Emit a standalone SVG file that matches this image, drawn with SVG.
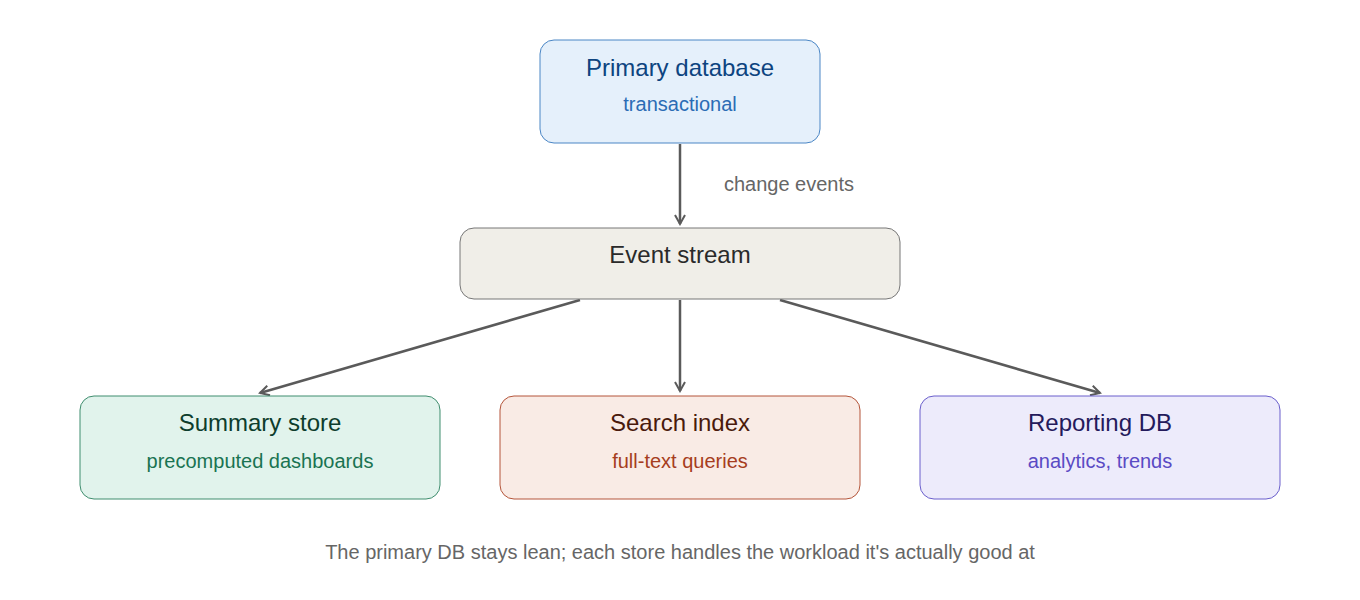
<svg xmlns="http://www.w3.org/2000/svg" width="1360" height="600" viewBox="0 0 1360 600">
<style>
text{font-family:"Liberation Sans",Arial,sans-serif;text-anchor:middle}
.t{font-size:24px}.s{font-size:20px}
.e{stroke:#5a5a5a;stroke-width:2.5;fill:none;marker-end:url(#a)}
</style>
<defs><marker id="a" viewBox="0 0 12 12" refX="10" refY="6" markerWidth="12" markerHeight="12" markerUnits="userSpaceOnUse" orient="auto"><path d="M1 1L10 6L1 11" fill="none" stroke="#5a5a5a" stroke-width="2"/></marker></defs>
<rect width="1360" height="600" fill="#fff"/>
<g id="connectors">
<line class="e" x1="680" y1="144" x2="680" y2="224"/>
<text x="789" y="191" class="s" fill="#666">change events</text>
<line class="e" x1="580" y1="300" x2="260" y2="393"/>
<line class="e" x1="680" y1="300" x2="680" y2="391"/>
<line class="e" x1="780" y1="300" x2="1100" y2="393"/>
</g>
<g id="primary"><rect x="540" y="40" width="280" height="103" rx="14" fill="#e5f0fb" stroke="#4a86c5"/>
<text x="680" y="76" class="t" fill="#0d4480">Primary database</text><text x="680" y="111" class="s" fill="#2b6cb5">transactional</text></g>
<g id="stream"><rect x="460" y="228" width="440" height="71" rx="14" fill="#f0eee8" stroke="#777"/>
<text x="680" y="263" class="t" fill="#2a2a2a">Event stream</text></g>
<g id="summary"><rect x="80" y="396" width="360" height="103" rx="14" fill="#e1f3ec" stroke="#3f8d6e"/>
<text x="260" y="431" class="t" fill="#0d3d2c">Summary store</text><text x="260" y="468" class="s" fill="#1a7352">precomputed dashboards</text></g>
<g id="search"><rect x="500" y="396" width="360" height="103" rx="14" fill="#f9ebe5" stroke="#b4553a"/>
<text x="680" y="431" class="t" fill="#4a1a0c">Search index</text><text x="680" y="468" class="s" fill="#a63d20">full-text queries</text></g>
<g id="reporting"><rect x="920" y="396" width="360" height="103" rx="14" fill="#edebfb" stroke="#6a5fcc"/>
<text x="1100" y="431" class="t" fill="#241a5c">Reporting DB</text><text x="1100" y="468" class="s" fill="#5a4ac4">analytics, trends</text></g>
<text x="680" y="559" class="s" fill="#666">The primary DB stays lean; each store handles the workload it's actually good at</text>
</svg>
